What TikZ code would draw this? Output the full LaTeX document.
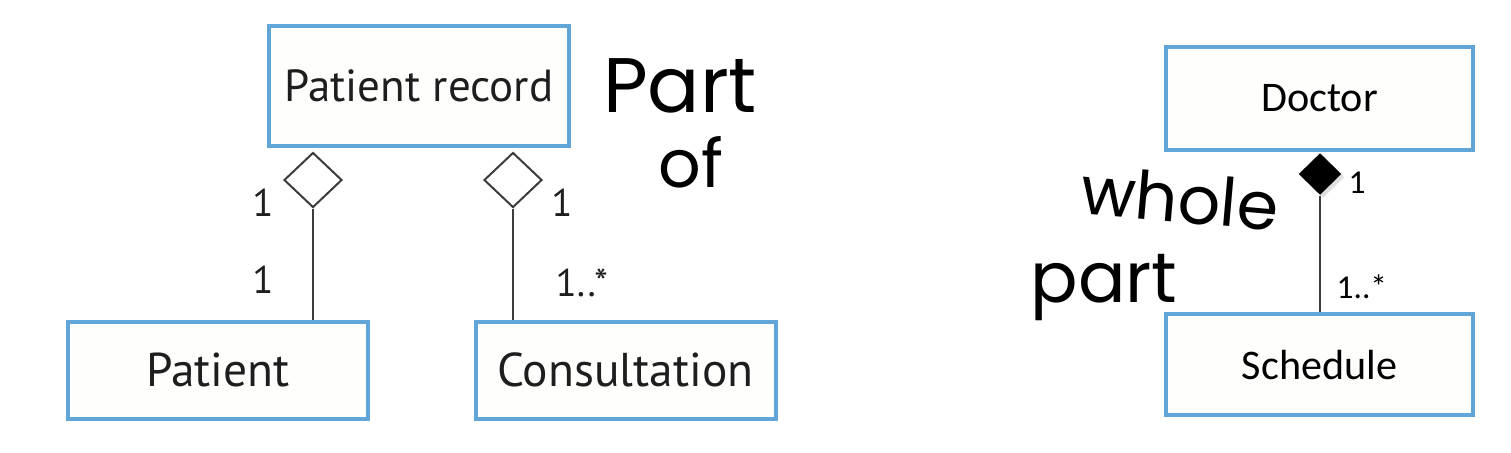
\documentclass[tikz,border=0pt]{standalone}
\usepackage{fontspec}
\setmainfont{PT Sans}
\newfontfamily\calfont{Carlito}
\newfontfamily\handfont{Poppins}
\usetikzlibrary{shapes.geometric,shadows}
\definecolor{boxblue}{RGB}{98,165,216}
\definecolor{boxfill}{RGB}{254,254,252}
\definecolor{linegray}{RGB}{60,60,60}
\definecolor{textgray}{RGB}{30,30,30}
\tikzset{
  classbox/.style={draw=boxblue, line width=0.04cm, fill=boxfill, inner sep=0pt},
  aggr/.style={diamond, draw=linegray, line width=0.02cm, fill=white, inner sep=0pt,
    minimum width=0.58cm, minimum height=0.55cm},
  comp/.style={diamond, fill=black, inner sep=0pt, minimum width=0.43cm, minimum height=0.42cm,
    drop shadow={opacity=0.25, shadow xshift=0.03cm, shadow yshift=-0.03cm}},
  mult/.style={inner sep=0pt, text=textgray, font=\fontsize{11}{13}\selectfont},
  hand/.style={inner sep=0pt, font=\handfont\fontsize{22}{24}\selectfont}
}
\begin{document}
\begin{tikzpicture}
\useasboundingbox (0,0) rectangle (15.11,-4.52);

\node[classbox, minimum width=3.0cm, minimum height=1.2cm, text=textgray,
  font=\fontsize{12.8}{15}\selectfont] (record) at (4.19,-0.86) {Patient record};
\node[classbox, minimum width=3.0cm, minimum height=0.97cm, text=textgray,
  font=\fontsize{13.5}{15}\selectfont] (patient) at (2.18,-3.70) {Patient};
\node[classbox, minimum width=3.0cm, minimum height=0.97cm, text=textgray,
  font=\fontsize{13.5}{15}\selectfont] (consult) at (6.255,-3.70) {Consultation};
\node[classbox, minimum width=3.07cm, minimum height=1.03cm,
  font=\calfont\fontsize{12}{14}\selectfont] (doctor) at (13.195,-0.985) {Doctor};
\node[classbox, minimum width=3.07cm, minimum height=1.01cm,
  font=\calfont\fontsize{12}{14}\selectfont] (sched) at (13.195,-3.645) {Schedule};

\node[aggr] (pd) at (3.13,-1.80) {};
\node[aggr] (cd) at (5.13,-1.80) {};
\node[comp] (dd) at (13.20,-1.74) {};

\draw[linegray, line width=0.02cm] (pd.south) -- (pd.south |- patient.north);
\draw[linegray, line width=0.02cm] (cd.south) -- (cd.south |- consult.north);
\draw[linegray, line width=0.015cm] (dd.south) -- (dd.south |- sched.north);

\node[mult] (m1) at (2.63,-2.03) {1};
\node[mult] (m2) at (2.63,-2.80) {1};
\node[mult] (m3) at (5.62,-2.03) {1};
\node[mult, anchor=west] (m4) at (5.55,-2.83) {1..*};
\node[mult, text=black, font=\calfont\fontsize{9.5}{11}\selectfont] (m5) at (13.57,-1.83) {1};
\node[mult, anchor=west, text=black, font=\calfont\fontsize{9.5}{11}\selectfont] (m6) at (13.36,-2.87) {1..*};

% handwritten notes
\node[hand] (partof1) at (6.80,-0.86) {Part};
\node[hand, font=\handfont\fontsize{19}{21}\selectfont] (partof2) at (6.91,-1.62) {of};
\node[hand, font=\handfont\fontsize{19}{21}\selectfont, rotate=-5] (whole) at (11.80,-1.98) {whole};
\node[hand, font=\handfont\fontsize{20}{22}\selectfont] (part) at (11.04,-2.88) {part};
\end{tikzpicture}
\end{document}
